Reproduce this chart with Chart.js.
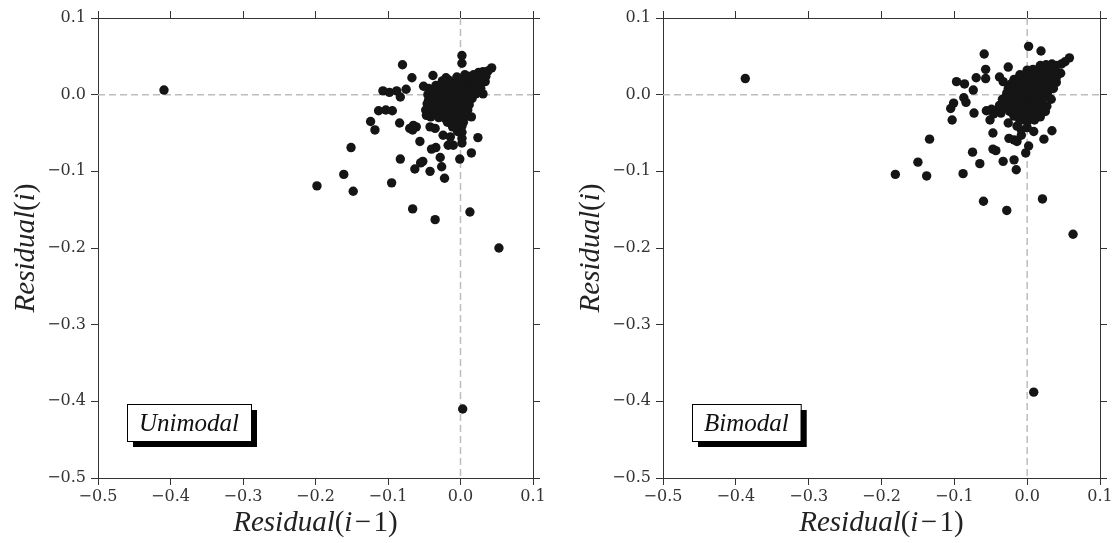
<!DOCTYPE html>
<html>
<head>
<meta charset="utf-8">
<script src="https://cdn.jsdelivr.net/npm/chart.js@4.4.1/dist/chart.umd.min.js"></script>
<style>
  html, body { margin: 0; padding: 0; background: #fff; }
  .panel { position: absolute; top: 0; width: 558px; height: 543px; }
  canvas { display: block; }
</style>
</head>
<body>
<div class="panel" style="left:0"><canvas id="uni" width="558" height="543"></canvas></div>
<div class="panel" style="left:558px"><canvas id="bi" width="558" height="543"></canvas></div>
<script>
// tick values shared by both axes of both panels
const axisTicks = [-0.5, -0.4, -0.3, -0.2, -0.1, 0.0, 0.1];

// Unimodal panel: [residual(i-1), residual(i)]
const uniScatter = [
  [-0.409, 0.006], [0.003, -0.410], [0.002, 0.051], [0.002, 0.041], [-0.080, 0.039],
  [-0.067, 0.022], [-0.038, 0.025], [0.043, 0.035], [0.038, 0.031], [0.025, 0.029],
  [0.034, 0.017], [0.031, 0.001], [0.006, 0.026], [-0.051, 0.011], [-0.107, 0.005],
  [-0.098, 0.003], [-0.088, 0.005], [-0.083, -0.003], [-0.075, 0.007], [-0.113, -0.021],
  [-0.103, -0.020], [-0.094, -0.021], [-0.124, -0.035], [-0.118, -0.046], [-0.084, -0.037],
  [-0.070, -0.044], [-0.065, -0.040], [-0.061, -0.042], [-0.066, -0.046], [-0.056, -0.061],
  [-0.044, -0.007], [-0.047, -0.027], [-0.041, -0.029], [-0.042, -0.042], [-0.035, -0.044],
  [-0.024, -0.053], [-0.014, -0.055], [-0.017, -0.066], [-0.010, -0.066], [0.002, -0.057],
  [0.002, -0.063], [0.024, -0.056], [0.015, -0.029], [0.015, -0.076], [-0.001, -0.084],
  [-0.034, -0.069], [-0.040, -0.071], [-0.028, -0.082], [-0.026, -0.094], [-0.022, -0.109],
  [-0.042, -0.100], [-0.052, -0.087], [-0.055, -0.089], [-0.063, -0.097], [-0.083, -0.084],
  [-0.151, -0.069], [-0.161, -0.104], [-0.198, -0.119], [-0.148, -0.126], [-0.095, -0.115],
  [-0.066, -0.149], [-0.035, -0.163], [0.013, -0.153], [0.053, -0.200]
];
const uniCore = [
  [-0.025, 0.018], [-0.016, 0.019], [-0.006, 0.017], [0.004, 0.019], [0.012, 0.017],
  [-0.034, 0.012], [-0.027, 0.013], [-0.019, 0.011], [-0.011, 0.012], [-0.003, 0.013], [0.005, 0.011], [0.013, 0.012], [0.020, 0.013],
  [-0.041, 0.006], [-0.031, 0.005], [-0.024, 0.007], [-0.015, 0.006], [-0.007, 0.005], [0.001, 0.007], [0.009, 0.006], [0.017, 0.005], [0.024, 0.007],
  [-0.045, 0.000], [-0.036, -0.001], [-0.027, 0.001], [-0.020, 0.000], [-0.012, -0.001], [-0.004, 0.001], [0.005, 0.000], [0.012, -0.001], [0.021, 0.001],
  [-0.040, -0.006], [-0.031, -0.005], [-0.023, -0.007], [-0.016, -0.006], [-0.008, -0.005], [0.001, -0.007], [0.008, -0.006], [0.016, -0.005],
  [-0.046, -0.012], [-0.036, -0.013], [-0.028, -0.011], [-0.019, -0.012], [-0.011, -0.013], [-0.003, -0.011], [0.004, -0.012], [0.012, -0.013],
  [-0.041, -0.018], [-0.032, -0.019], [-0.024, -0.017], [-0.015, -0.018], [-0.007, -0.019], [0.000, -0.017], [0.008, -0.018],
  [-0.036, -0.024], [-0.027, -0.025], [-0.019, -0.023], [-0.012, -0.024], [-0.004, -0.025], [0.004, -0.023],
  [-0.030, -0.030], [-0.021, -0.031], [-0.013, -0.029], [-0.006, -0.030], [0.002, -0.031],
  [-0.018, -0.036], [-0.010, -0.037], [-0.002, -0.035], [0.004, -0.036],
  [-0.011, -0.042], [-0.004, -0.043], [0.002, -0.041],
  [-0.004, -0.048], [0.002, -0.049],
  [0.020, 0.022], [0.027, 0.025], [0.031, 0.030], [0.024, 0.016], [0.028, 0.008], [0.018, 0.026],
  [0.016, 0.021], [0.010, 0.024], [0.023, 0.011], [0.030, 0.018], [0.035, 0.024], [0.014, 0.007],
  [-0.005, 0.023], [-0.020, 0.022], [0.010, -0.020], [0.008, -0.028], [-0.048, -0.020], [-0.044, 0.008]
];

// Bimodal panel
const biScatter = [
  [-0.387, 0.021], [0.009, -0.388], [0.002, 0.063], [0.019, 0.057], [-0.059, 0.053],
  [-0.057, 0.033], [-0.057, 0.021], [-0.070, 0.022], [-0.097, 0.017], [-0.086, 0.014],
  [-0.074, 0.006], [-0.026, 0.036], [-0.038, 0.023], [-0.033, 0.017], [0.058, 0.048],
  [0.052, 0.043], [0.047, 0.040], [0.034, 0.040], [0.046, 0.028], [0.040, 0.016],
  [0.029, 0.005], [0.027, -0.015], [0.018, -0.029], [0.034, -0.047], [0.023, -0.058],
  [-0.087, -0.004], [-0.084, -0.010], [-0.101, -0.011], [-0.105, -0.018], [-0.103, -0.033],
  [-0.073, -0.024], [-0.056, -0.021], [-0.049, -0.019], [-0.042, -0.021], [-0.051, -0.033],
  [-0.047, -0.050], [-0.026, -0.037], [-0.014, -0.041], [-0.008, -0.046], [0.000, -0.043],
  [0.009, -0.048], [-0.025, -0.057], [-0.018, -0.059], [-0.014, -0.061], [-0.008, -0.053],
  [0.002, -0.067], [-0.002, -0.076], [-0.047, -0.071], [-0.043, -0.073], [-0.075, -0.075],
  [-0.065, -0.090], [-0.033, -0.087], [-0.018, -0.085], [-0.015, -0.098], [-0.088, -0.103],
  [-0.134, -0.058], [-0.150, -0.088], [-0.181, -0.104], [-0.138, -0.106], [-0.060, -0.139],
  [-0.028, -0.151], [0.021, -0.136], [0.063, -0.182]
];
const biCore = [
  [0.018, 0.038], [0.026, 0.039], [0.032, 0.037],
  [0.000, 0.032], [0.008, 0.033], [0.016, 0.031], [0.024, 0.032], [0.030, 0.033],
  [-0.010, 0.026], [-0.002, 0.027], [0.006, 0.025], [0.014, 0.026], [0.022, 0.027], [0.030, 0.025],
  [-0.018, 0.020], [-0.010, 0.021], [-0.002, 0.019], [0.006, 0.020], [0.014, 0.021], [0.022, 0.019], [0.030, 0.020],
  [-0.022, 0.014], [-0.014, 0.015], [-0.006, 0.013], [0.002, 0.014], [0.010, 0.015], [0.018, 0.013], [0.026, 0.014], [0.034, 0.015],
  [-0.026, 0.008], [-0.018, 0.009], [-0.010, 0.007], [-0.002, 0.008], [0.006, 0.009], [0.014, 0.007], [0.022, 0.008], [0.030, 0.009],
  [-0.028, 0.002], [-0.020, 0.003], [-0.012, 0.001], [-0.004, 0.002], [0.004, 0.003], [0.012, 0.001], [0.020, 0.002], [0.028, 0.003],
  [-0.030, -0.004], [-0.022, -0.003], [-0.014, -0.005], [-0.006, -0.004], [0.002, -0.003], [0.010, -0.005], [0.018, -0.004], [0.026, -0.003],
  [-0.028, -0.010], [-0.020, -0.011], [-0.012, -0.009], [-0.004, -0.010], [0.004, -0.011], [0.012, -0.009], [0.020, -0.010],
  [-0.030, -0.016], [-0.022, -0.017], [-0.014, -0.015], [-0.006, -0.016], [0.002, -0.017], [0.010, -0.015], [0.018, -0.016],
  [-0.024, -0.022], [-0.016, -0.023], [-0.008, -0.021], [0.000, -0.022], [0.008, -0.023], [0.016, -0.021],
  [-0.018, -0.028], [-0.010, -0.029], [-0.002, -0.027], [0.006, -0.028], [0.014, -0.029],
  [-0.010, -0.034], [0.000, -0.035], [0.010, -0.033],
  [-0.046, -0.025], [-0.036, -0.024], [-0.038, -0.014], [-0.034, -0.006],
  [0.038, 0.030], [0.040, 0.022], [0.036, 0.008], [0.033, -0.006], [0.025, -0.022], [0.040, 0.038]
];

const frameColor = '#333';
const serif = '"Liberation Serif", serif';

function mixedText(ctx, parts, size) {
  // parts: [text, italic]
  let w = 0;
  parts.forEach(p => {
    ctx.font = (p[1] ? 'italic ' : '') + size + 'px ' + serif;
    w += ctx.measureText(p[0]).width;
  });
  return {
    width: w,
    draw(x, y) {
      parts.forEach(p => {
        ctx.font = (p[1] ? 'italic ' : '') + size + 'px ' + serif;
        ctx.fillText(p[0], x, y);
        x += ctx.measureText(p[0]).width;
      });
    }
  };
}

const extras = {
  id: 'extras',
  beforeDatasetsDraw(chart) {
    const {ctx, chartArea: a, scales: {x, y}} = chart;
    const x0 = x.getPixelForValue(0);
    const y0 = y.getPixelForValue(0);
    ctx.save();
    ctx.strokeStyle = '#bdbdbd';
    ctx.lineWidth = 1.5;
    ctx.setLineDash([7, 4]);
    ctx.beginPath();
    ctx.moveTo(a.left, y0); ctx.lineTo(a.right, y0);
    ctx.moveTo(x0, a.top); ctx.lineTo(x0, a.bottom);
    ctx.stroke();
    ctx.restore();
  },
  afterDraw(chart, args, opts) {
    const {ctx, chartArea: a} = chart;
    ctx.save();
    ctx.fillStyle = '#222';
    ctx.textAlign = 'left';
    ctx.textBaseline = 'middle';

    // x title
    const xt = mixedText(ctx, [['Residual', true], ['(', false], ['i', true], ['\u200A\u2212\u200A', false], ['1', false], [')', false]], 29);
    xt.draw((a.left + a.right) / 2 - xt.width / 2, a.bottom + 45);

    // y title, rotated
    const yt = mixedText(ctx, [['Residual', true], ['(', false], ['i', true], [')', false]], 29);
    ctx.save();
    ctx.translate(a.left - 72, (a.top + a.bottom) / 2);
    ctx.rotate(-Math.PI / 2);
    yt.draw(-yt.width / 2, 0);
    ctx.restore();

    // boxed panel label with drop shadow
    ctx.font = 'italic 25px ' + serif;
    const bw = ctx.measureText(opts.label).width + 24;
    const bh = 37;
    const bx = a.left + 29;
    const by = a.top + 386;
    ctx.fillStyle = '#000';
    ctx.fillRect(bx + 6, by + 6, bw, bh);
    ctx.fillStyle = '#fff';
    ctx.fillRect(bx, by, bw, bh);
    ctx.strokeStyle = '#000';
    ctx.lineWidth = 1;
    ctx.strokeRect(bx + 0.5, by + 0.5, bw, bh);
    ctx.fillStyle = '#111';
    ctx.textBaseline = 'alphabetic';
    ctx.fillText(opts.label, bx + 12, by + 27);
    ctx.restore();
  }
};

function makeChart(id, pairs, label, leftWidth, padRight) {
  const points = pairs.map(p => ({x: p[0], y: p[1]}));
  const setTicks = s => { s.ticks = axisTicks.map(v => ({value: v})); };
  const fmt = v => (v < -1e-9 ? '\u2212' : '') + Math.abs(v).toFixed(1);
  const tickFont = {family: '"DejaVu Serif", serif', size: 16};
  const grid = {drawOnChartArea: false, tickLength: 7, tickColor: frameColor, tickWidth: 1};
  const border = {color: frameColor, width: 1};
  const side = (pos, fit) => ({
    type: 'linear', position: pos, min: -0.5, max: 0.1,
    afterBuildTicks: setTicks, afterFit: fit,
    ticks: {display: false}, grid, border
  });

  return new Chart(document.getElementById(id), {
    type: 'scatter',
    data: {
      datasets: [{
        data: points,
        backgroundColor: '#151515',
        borderWidth: 0,
        pointRadius: 4.7
      }]
    },
    options: {
      responsive: false,
      animation: false,
      events: [],
      layout: {padding: {top: 11, right: padRight, left: 0, bottom: 0}},
      plugins: {
        legend: {display: false},
        tooltip: {enabled: false},
        extras: {label}
      },
      scales: {
        x: {
          type: 'linear', position: 'bottom', min: -0.5, max: 0.1,
          afterBuildTicks: setTicks,
          afterFit: s => { s.height = 65; },
          ticks: {callback: fmt, font: tickFont, color: '#333', padding: 2, autoSkip: false, maxRotation: 0},
          grid, border
        },
        y: {
          type: 'linear', position: 'left', min: -0.5, max: 0.1,
          afterBuildTicks: setTicks,
          afterFit: s => { s.width = leftWidth; },
          ticks: {callback: fmt, font: tickFont, color: '#333', padding: 5, autoSkip: false},
          grid, border
        },
        x2: side('top', s => { s.height = 7; }),
        y2: side('right', s => { s.width = 7; })
      }
    },
    plugins: [extras]
  });
}

makeChart('uni', uniScatter.concat(uniCore), 'Unimodal', 98, 18);
makeChart('bi', biScatter.concat(biCore), 'Bimodal', 105, 9);
</script>
</body>
</html>
